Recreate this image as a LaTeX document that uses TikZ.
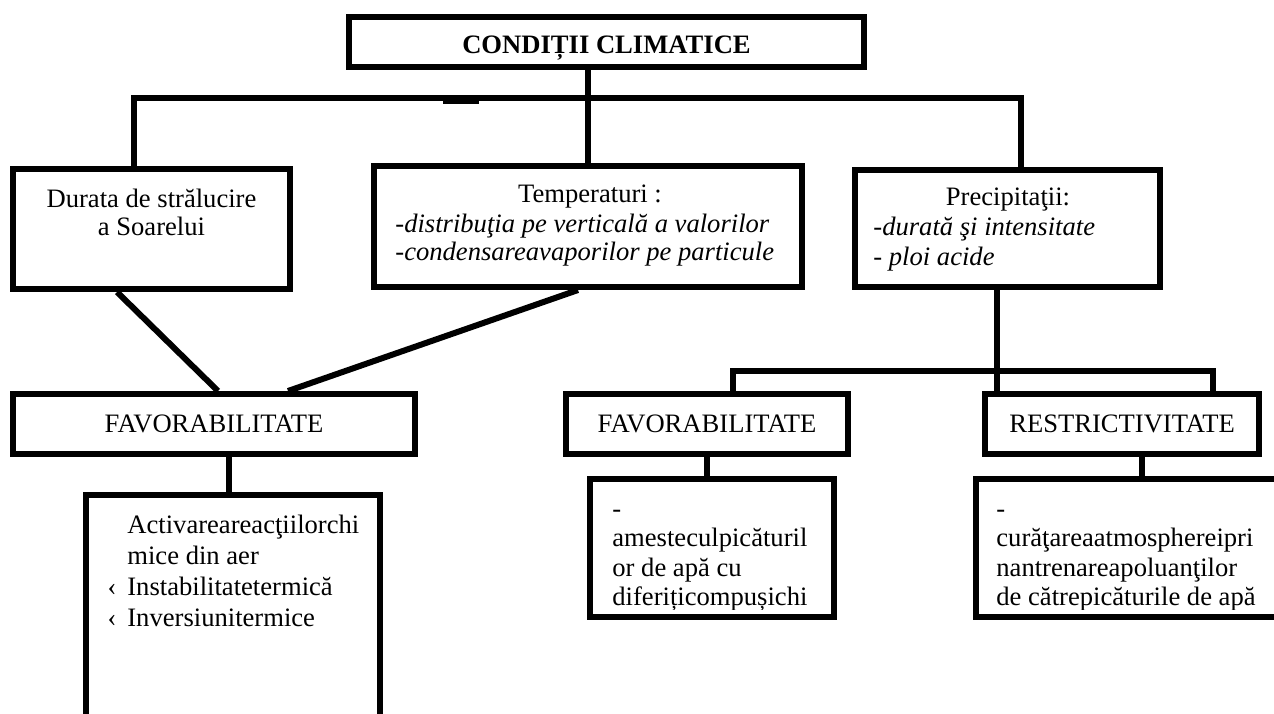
\documentclass[tikz,border=0pt]{standalone}
\usepackage{fontspec}
\setmainfont{Liberation Serif}
\begin{document}
\begin{tikzpicture}[x=0.5pt,y=-0.5pt,
  box/.style={draw, line width=3pt, inner sep=0pt, font=\fontsize{13.3pt}{14pt}\selectfont},
  conn/.style={line width=3pt},
  txt/.style={inner sep=0pt},
  f14/.style={font=\fontsize{13.3pt}{14pt}\selectfont},
  f145/.style={font=\fontsize{13.3pt}{14.5pt}\selectfont},
  f155/.style={font=\fontsize{13.3pt}{15.5pt}\selectfont},
  f1475/.style={font=\fontsize{13.3pt}{14.75pt}\selectfont}]
\useasboundingbox (0,0) rectangle (1274,713);

% boxes
\node[box, minimum width=257.5pt, minimum height=25pt] (top) at (606.5,42) {};
\node[txt, font=\fontsize{13.3pt}{14pt}\selectfont\bfseries, anchor=base] (topT) at (606.5,53) {CONDIȚII CLIMATICE};
\node[box, minimum width=138.5pt, minimum height=60pt] (durata) at (151.5,229) {};
\node[box, minimum width=214pt, minimum height=60.5pt] (temp) at (588,226.5) {};
\node[box, minimum width=152.5pt, minimum height=58.5pt] (precip) at (1007.5,228.5) {};
\node[box, minimum width=201pt, minimum height=30pt] (fav1) at (214,424) {FAVORABILITATE};
\node[box, minimum width=141pt, minimum height=30pt] (fav2) at (707,424) {FAVORABILITATE};
\node[box, minimum width=137pt, minimum height=30pt] (restr) at (1122,424) {RESTRICTIVITATE};
\node[box, minimum width=147pt, minimum height=131pt] (bigL) at (233,626) {};
\node[box, minimum width=122pt, minimum height=69pt] (subM) at (712,548) {};
\node[box, minimum width=160.5pt, minimum height=69pt] (subR) at (1136.5,548) {};

% texts
\node[txt, f14, anchor=north, align=center] (durataT) at (151.5,187.4) {\strut Durata de strălucire\\a Soarelui};
\node[txt, f145, anchor=north] (tempH) at (590,181.7) {\strut Temperaturi :};
\node[txt, anchor=north west, align=left, font=\fontsize{13.3pt}{14pt}\selectfont\itshape] (tempB) at (395,212.4) {\strut -distribuţia pe verticală a valorilor\\-condensareavaporilor pe particule};
\node[txt, f145, anchor=north] (precH) at (1008,184.7) {\strut Precipitaţii:};
\node[txt, anchor=north west, align=left, font=\fontsize{13.3pt}{15pt}\selectfont\itshape] (precB) at (873,214) {\strut -durată şi intensitate\\- ploi acide};
\node[txt, f155, anchor=north west, align=left] (bigLT) at (127,511.3) {\strut Activareareacţiilorchi\\mice din aer\\\llap{‹\hspace{5.5pt}}Instabilitatetermică\\\llap{‹\hspace{5.5pt}}Inversiunitermice};
\begin{scope}
\clip (593,482) rectangle (831,609);
\node[txt, f1475, anchor=north west, align=left] (subMT) at (612,496.3) {\strut -\\amesteculpicăturil\\or de apă cu\\diferițicompușichi};
\end{scope}
\begin{scope}
\clip (979,482) rectangle (1274,609);
\node[txt, f1475, anchor=north west, align=left] (subRT) at (996,496.3) {\strut -\\curăţareaatmosphereipri\\nantrenareapoluanţilor\\de cătrepicăturile de apă};
\end{scope}

% connectors
\draw[conn] (temp.north |- top.south) -- (temp.north);
\coordinate (dL) at ([xshift=-8.75pt]durata.north);
\coordinate (pR) at ([xshift=6.75pt]precip.north);
\coordinate (barY) at (589,98);
\draw[conn] (dL) |- (barY) -| (pR);
\fill (443,98) rectangle (479,104);
\draw[conn] ([xshift=-17.25pt]durata.south) -- ([xshift=2pt]fav1.north);
\draw[conn] ([xshift=-5pt]temp.south) -- ([xshift=37pt]fav1.north);
\coordinate (f1) at ([xshift=7.5pt]fav1.south);
\draw[conn] (f1) -- (f1 |- bigL.north);
\coordinate (p1) at ([xshift=-5.25pt]precip.south);
\draw[conn] (p1) -- (p1 |- restr.north);
\coordinate (f2) at ([xshift=13pt]fav2.north);
\coordinate (r2) at ([xshift=45.5pt]restr.north);
\coordinate (b2) at (997,371);
\draw[conn] (f2) |- (b2) -| (r2);
\draw[conn] (fav2.south) -- (fav2.south |- subM.north);
\coordinate (r3) at ([xshift=10pt]restr.south);
\draw[conn] (r3) -- (r3 |- subR.north);
\end{tikzpicture}
\end{document}
